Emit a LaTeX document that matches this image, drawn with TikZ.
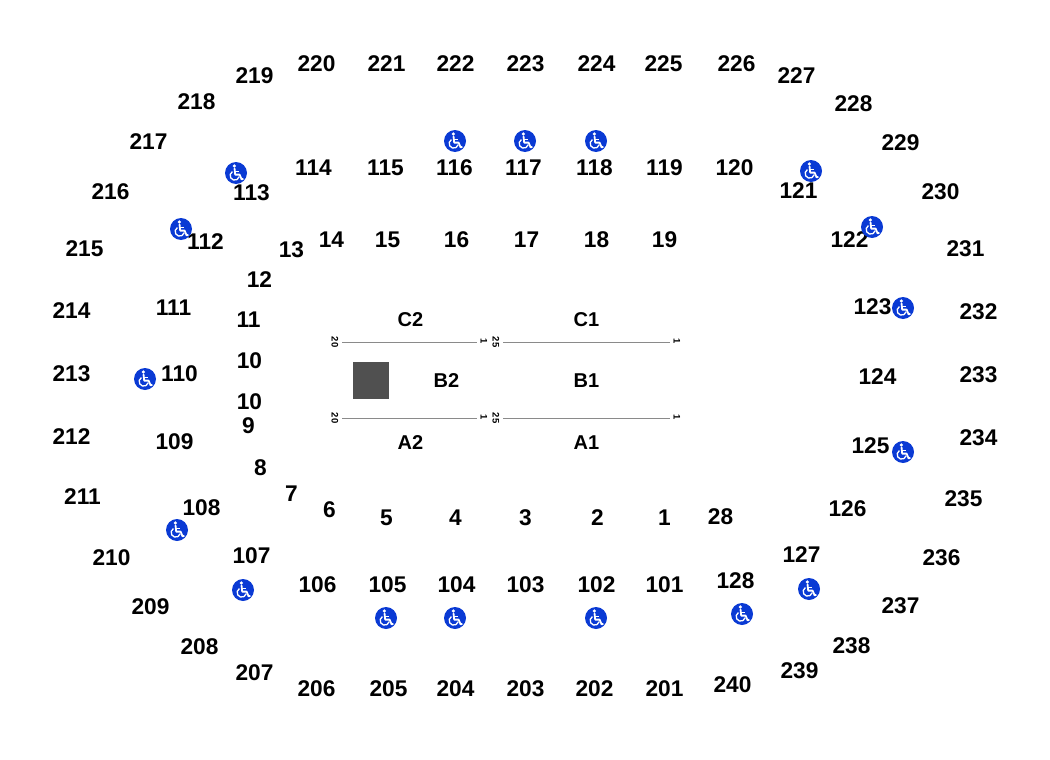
\documentclass[tikz,border=0pt]{standalone}
\usepackage{fontspec}
\setmainfont{Liberation Sans}
\definecolor{adablue}{HTML}{0A3AD4}
\definecolor{blockgrey}{HTML}{505050}
\definecolor{rowgrey}{HTML}{8A8A8A}
\tikzset{
  sec/.style={font=\fontsize{22.7}{24}\selectfont\bfseries,text=black,inner sep=0pt},
  sub/.style={font=\fontsize{20}{22}\selectfont\bfseries,text=black,inner sep=0pt},
  seat/.style={font=\fontsize{9.5}{10}\selectfont\bfseries,text=black,inner sep=0pt,rotate=-90},
  rowline/.style={draw=rowgrey,line width=1pt},
  ada/.pic={
    \fill[adablue] (0,0) circle (11);
    \fill[white] (-1.6,-7) circle (1.8);
    \draw[white,line width=1.8pt,line join=round] (-1.5,-4.8) -- (-0.8,1.6) -- (3.6,1.6) -- (5.6,6.4) -- (7.4,5.7);
    \draw[white,line width=1.4pt] (-1,-1.6) -- (3,-1.6);
    \draw[white,line width=1.3pt] (-3.6,-1.4) arc[start angle=-120,end angle=-345,radius=4.6];
  }
}
\begin{document}
\begin{tikzpicture}[x=1pt,y=-1pt]
\useasboundingbox (0,0) rectangle (1050,760);
\begin{scope}[xshift=0.5pt,yshift=-0.5pt]
\foreach \t/\x/\y in {
219/254/75,220/316/63,221/386/63,222/455/63,223/525/63,224/596/63,225/663/63,226/736/63,227/796/75,
218/196/101,228/853/103,217/148/141,229/900/142,216/110/191,230/940/191,215/84/248,231/965/248,
214/71/310,232/978/311,213/71/373,233/978/374,212/71/436,234/978/437,211/82/496,235/963/498,
210/111/557,236/941/557,209/150/606,237/900/605,208/199/646,238/851/645,207/254/672,239/799/670,
206/316/688,205/388/688,204/455/688,203/525/688,202/594/688,201/664/688,240/732/684,
114/313/167,115/385/167,116/454/167,117/523/167,118/594/167,119/664/167,120/734/167,
113/251/192,121/798/190,112/205/241,122/849/239,111/173/307,123/872/306,110/179/373,124/877/376,
109/174/441,125/870/445,108/201/507,126/847/508,107/251/555,127/801/554,
106/317/584,105/387/584,104/456/584,103/525/584,102/596/584,101/664/584,128/735/580,
14/331/239,15/387/239,16/456/239,17/526/239,18/596/239,19/664/239,13/291/249,12/259/279,11/248/319,
9/248/425,8/260/467,7/291/493,6/329/509,5/386/517,4/455/517,3/525/517,2/597/517,1/664/517,28/720/516}
  \node[sec] (s\t) at (\x,\y) {\t};
\node[sec] (s10a) at (249,360) {10};
\node[sec] (s10b) at (249,401) {10};

\node[sub] (C2) at (410,319) {C2};
\node[sub] (C1) at (586,319) {C1};
\node[sub] (B2) at (446,380) {B2};
\node[sub] (B1) at (586,380) {B1};
\node[sub] (A2) at (410,442) {A2};
\node[sub] (A1) at (586,442) {A1};
\end{scope}

\fill[blockgrey] (352.5,362) rectangle (389,399);

\node[seat] (c20) at (335,342) {20};
\node[seat] (c1b) at (484,341) {1};
\node[seat] (c25) at (496,342) {25};
\node[seat] (c1a) at (677,341) {1};
\node[seat] (a20) at (335,418) {20};
\node[seat] (a1b) at (484,417) {1};
\node[seat] (a25) at (496,418) {25};
\node[seat] (a1a) at (677,417) {1};
\draw[rowline] (c20) ++(7,0) -- ++(135,0);
\draw[rowline] (c25) ++(7,0) -- ++(167,0);
\draw[rowline] (a20) ++(7,0) -- ++(135,0);
\draw[rowline] (a25) ++(7,0) -- ++(167,0);

\foreach \x/\y in {455/141,525/141,596/141,236/173,811/171,181/229,872/227,903/308,145/379,903/452,
177/530,243/590,809/589,386/618,455/618,596/618,742/614}
  \pic at (\x,\y) {ada};
\end{tikzpicture}
\end{document}
